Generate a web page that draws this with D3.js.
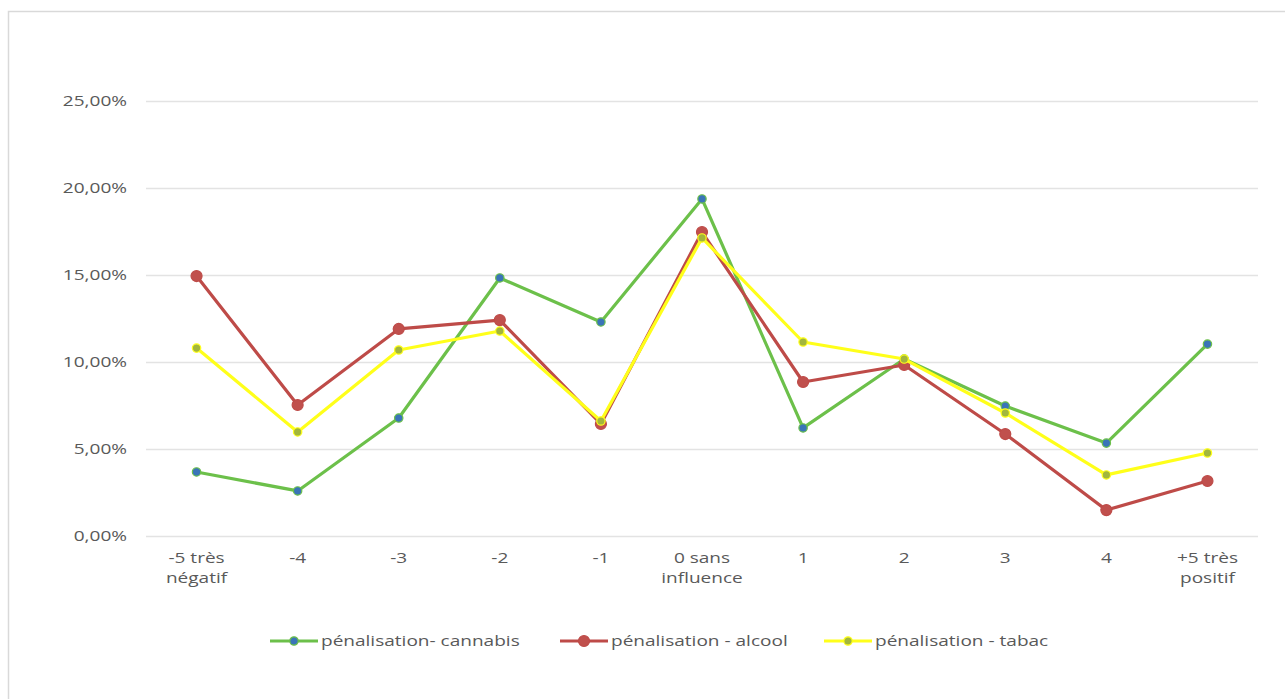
<!DOCTYPE html>
<html>
<head>
<meta charset="utf-8">
<script src="https://cdn.jsdelivr.net/npm/d3@7"></script>
<style>
  html, body { margin: 0; padding: 0; background: #fff; }
  svg { display: block; }
  text { font-family: "Open Sans", "Noto Sans", sans-serif; fill: #595959; }
</style>
</head>
<body>
<svg id="chart" width="1285" height="699"></svg>
<script>
const categories = ["-5 très|négatif", "-4", "-3", "-2", "-1", "0 sans|influence", "1", "2", "3", "4", "+5 très|positif"];
const cannabis = [3.68, 2.59, 6.78, 14.83, 12.30, 19.37, 6.21, 10.17, 7.47, 5.34, 11.03];
const alcool   = [14.94, 7.53, 11.90, 12.41, 6.44, 17.47, 8.85, 9.83, 5.86, 1.49, 3.16];
const tabac    = [10.80, 5.98, 10.69, 11.78, 6.61, 17.13, 11.15, 10.17, 7.07, 3.51, 4.77];
const yTicks = [0, 5, 10, 15, 20, 25];
const seriesNames = ["pénalisation- cannabis", "pénalisation - alcool", "pénalisation - tabac"];

const series = [
  { name: seriesNames[0], values: cannabis, line: "#6CC04A", marker: "#3A74B8", r: 4.2 },
  { name: seriesNames[1], values: alcool,   line: "#BE4B48", marker: "#C0504D", r: 5.5 },
  { name: seriesNames[2], values: tabac,    line: "#FFFF1A", marker: "#A2B63C", r: 4.2 }
];

const FS = 15, SX = 1.27;
const svg = d3.select("#chart");

// outer frame
svg.append("rect").attr("x", 8.5).attr("y", 11.5).attr("width", 1300).attr("height", 720)
  .attr("fill", "#fff").attr("stroke", "#d9d9d9").attr("stroke-width", 1.5);

const plotLeft = 146, plotRight = 1258, plotTop = 101, plotBottom = 536;
const x = d3.scaleBand().domain(categories).range([plotLeft, plotRight]);
const y = d3.scaleLinear().domain([0, 25]).range([plotBottom, plotTop]);

// gridlines
svg.append("g").selectAll("line").data(yTicks).join("line")
  .attr("x1", plotLeft).attr("x2", plotRight)
  .attr("y1", d => y(d) + 0.5).attr("y2", d => y(d) + 0.5)
  .attr("stroke", "#e3e3e3").attr("stroke-width", 1.3);

// y axis labels
const fmt = d => d.toFixed(2).replace(".", ",") + "%";
svg.append("g").selectAll("text").data(yTicks).join("text")
  .attr("transform", d => `translate(127,${y(d)}) scale(${SX},1)`)
  .attr("dy", "0.35em")
  .attr("text-anchor", "end").attr("font-size", FS).text(fmt);

// x axis labels
const xl = svg.append("g").selectAll("text").data(categories).join("text")
  .attr("transform", d => `translate(${x(d) + x.bandwidth() / 2},563) scale(${SX},1)`)
  .attr("text-anchor", "middle").attr("font-size", FS);
xl.each(function(d) {
  const parts = d.split("|");
  const t = d3.select(this);
  parts.forEach((p, i) => {
    t.append("tspan").attr("x", 0).attr("dy", i === 0 ? 0 : 20).text(p);
  });
});

// lines
const cx = (d, i) => x(categories[i]) + x.bandwidth() / 2;
const line = d3.line().x((d, i) => cx(d, i)).y(d => y(d));
series.forEach(s => {
  svg.append("path").datum(s.values).attr("d", line)
    .attr("fill", "none").attr("stroke", s.line).attr("stroke-width", 3.2)
    .attr("stroke-linejoin", "round");
  svg.append("g").selectAll("circle").data(s.values).join("circle")
    .attr("cx", (d, i) => cx(d, i)).attr("cy", d => y(d)).attr("r", s.r)
    .attr("fill", s.marker).attr("stroke", s.line).attr("stroke-width", 1.2);
});

// legend
const legendX = [270, 560, 824];
const legY = 641;
series.forEach((s, i) => {
  const g = svg.append("g").attr("transform", `translate(${legendX[i]},${legY})`);
  g.append("line").attr("x1", 0).attr("x2", 48).attr("y1", 0).attr("y2", 0)
    .attr("stroke", s.line).attr("stroke-width", 3.2);
  g.append("circle").attr("cx", 24).attr("cy", 0).attr("r", s.r)
    .attr("fill", s.marker).attr("stroke", s.line).attr("stroke-width", 1.2);
  g.append("text").attr("transform", `translate(51,0) scale(${SX},1)`).attr("dy", "0.35em")
    .attr("font-size", FS).text(s.name);
});
</script>
</body>
</html>
